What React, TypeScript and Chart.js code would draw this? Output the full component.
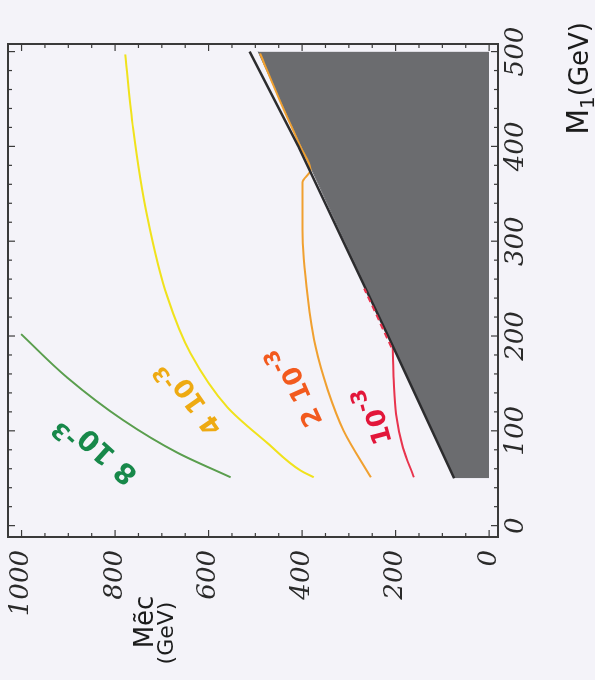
import React, { useEffect, useRef } from 'react';
import { Chart, registerables } from 'chart.js';
Chart.register(...registerables);

// Axis ticks
const M1_TICKS = [0, 100, 200, 300, 400, 500];
const ME_TICKS = [0, 200, 400, 600, 800, 1000];

// Excluded (grey) region: upper edge, filled down to Me = 0
const EXCLUDED_M1 = [50, 100, 200, 300, 400, 500];
const EXCLUDED_ME = [75, 122, 215, 309, 402, 494];

// Dark boundary line
const BOUNDARY_M1 = [50, 100, 200, 300, 400, 500];
const BOUNDARY_ME = [75, 122, 216, 312, 408, 512];

// Contours
const GREEN_M1 = [51, 77, 111, 156, 202];
const GREEN_ME = [553, 667, 782, 902, 1001];

const YELLOW_M1 = [51, 58, 87, 125, 182, 241, 326, 418, 497];
const YELLOW_ME = [375, 403, 474, 560, 639, 688, 731, 761, 778];

const ORANGE_M1 = [51, 100, 143, 188, 241, 312, 362, 375, 400, 450, 498];
const ORANGE_ME = [253, 311, 345, 371, 388, 399, 399, 382, 404, 449, 490];

const RED_M1 = [51, 82, 118, 153, 188];
const RED_ME = [161, 184, 199, 204, 206];

const RED_EDGE_M1 = [188, 250];
const RED_EDGE_ME = [209, 267];

// Contour labels
const LABEL_BASE = ['8 10', '4 10', '2 10', '10'];
const LABEL_SUP = ['-3', '-3', '-3', '-3'];
const LABEL_M1 = [81, 135, 147, 116];
const LABEL_ME = [838, 639, 412, 244];
const LABEL_ANGLE = [-48, -35, -24, -15];
const LABEL_COLOR = ['#17884a', '#eeaa12', '#f25a1e', '#e2163a'];
const LABEL_SIZE = [28, 26, 26, 26];

const zip = (xs: number[], ys: number[]) => xs.map((x, i) => ({ x, y: ys[i] }));

type Part = { text: string; font: string; dy: number; color: string };

function drawRich(ctx: CanvasRenderingContext2D, parts: Part[], x: number, y: number, angle: number, align: 'left' | 'center' | 'right') {
  let total = 0;
  const widths = parts.map((p) => {
    ctx.font = p.font;
    const w = ctx.measureText(p.text).width;
    total += w;
    return w;
  });
  ctx.save();
  ctx.translate(x, y);
  ctx.rotate((angle * Math.PI) / 180);
  ctx.textAlign = 'left';
  ctx.textBaseline = 'alphabetic';
  let cx = align === 'center' ? -total / 2 : align === 'right' ? -total : 0;
  parts.forEach((p, i) => {
    ctx.font = p.font;
    ctx.fillStyle = p.color;
    ctx.fillText(p.text, cx, p.dy);
    cx += widths[i];
  });
  ctx.restore();
}

const overlay = {
  id: 'overlay',
  afterDatasetsDraw(chart: any) {
    const { ctx, chartArea: a, scales } = chart;
    const xs = scales.x;
    const ys = scales.y;
    ctx.save();
    // frame
    ctx.strokeStyle = '#3a3a3a';
    ctx.lineWidth = 2;
    ctx.strokeRect(a.left, a.top, a.right - a.left, a.bottom - a.top);
    // inward ticks
    ctx.lineWidth = 1.2;
    const seg = (x1: number, y1: number, x2: number, y2: number) => {
      ctx.beginPath();
      ctx.moveTo(x1, y1);
      ctx.lineTo(x2, y2);
      ctx.stroke();
    };
    for (let m = 0; m <= 500; m += 20) {
      const px = xs.getPixelForValue(m);
      const len = m % 100 === 0 ? 7 : 4;
      seg(px, a.bottom, px, a.bottom - len);
      seg(px, a.top, px, a.top + len);
    }
    for (let e = 0; e <= 1000; e += 50) {
      const py = ys.getPixelForValue(e);
      const len = e % 200 === 0 ? 7 : 4;
      seg(a.left, py, a.left + len, py);
      seg(a.right, py, a.right - len, py);
    }
    // contour labels
    LABEL_BASE.forEach((base, i) => {
      const s = LABEL_SIZE[i];
      const px = xs.getPixelForValue(LABEL_M1[i]);
      const py = ys.getPixelForValue(LABEL_ME[i]);
      drawRich(
        ctx,
        [
          { text: base, font: `bold ${s}px "DejaVu Sans"`, dy: s * 0.36, color: LABEL_COLOR[i] },
          { text: LABEL_SUP[i], font: `bold ${Math.round(s * 0.82)}px "DejaVu Sans"`, dy: s * 0.36 - s * 0.5, color: LABEL_COLOR[i] },
        ],
        px,
        py,
        LABEL_ANGLE[i],
        'center'
      );
    });
    // axis titles
    drawRich(
      ctx,
      [
        { text: 'M', font: '30px "DejaVu Sans"', dy: 0, color: '#1c1c1c' },
        { text: '1', font: '20px "DejaVu Sans"', dy: 6, color: '#1c1c1c' },
        { text: '(GeV)', font: '26px "DejaVu Sans"', dy: 0, color: '#1c1c1c' },
      ],
      658,
      588,
      0,
      'right'
    );
    drawRich(ctx, [{ text: 'Mẽc', font: '26px "DejaVu Sans"', dy: 0, color: '#1c1c1c' }], 58, 153, 0, 'center');
    drawRich(ctx, [{ text: '(GeV)', font: '22px "DejaVu Sans"', dy: 0, color: '#1c1c1c' }], 47, 173, 0, 'center');
    ctx.restore();
  },
};

const lineDs = (label: string, xs: number[], ys: number[], color: string, width: number, extra: any = {}) => ({
  label,
  data: zip(xs, ys),
  borderColor: color,
  backgroundColor: color,
  borderWidth: width,
  pointRadius: 0,
  fill: false,
  cubicInterpolationMode: 'monotone',
  ...extra,
});

export default function App() {
  const ref = useRef<HTMLCanvasElement>(null);
  useEffect(() => {
    const tickFont = { family: '"DejaVu Serif"', style: 'italic' as const, size: 26 };
    const chart = new Chart(ref.current!, {
      type: 'line',
      data: {
        datasets: [
          lineDs('red edge', RED_EDGE_M1, RED_EDGE_ME, '#e8344e', 2, { borderDash: [6, 4], cubicInterpolationMode: 'default', tension: 0 }),
          lineDs('boundary', BOUNDARY_M1, BOUNDARY_ME, '#2c2c2e', 2.5, { cubicInterpolationMode: 'default', tension: 0 }),
          lineDs('1e-3', RED_M1, RED_ME, '#e8344e', 2),
          lineDs('2e-3', ORANGE_M1, ORANGE_ME, '#f0a030', 2),
          lineDs('4e-3', YELLOW_M1, YELLOW_ME, '#f0e21c', 2),
          lineDs('8e-3', GREEN_M1, GREEN_ME, '#5a9e4e', 2),
          {
            label: 'excluded',
            data: zip(EXCLUDED_M1, EXCLUDED_ME),
            borderColor: '#6b6c6f',
            backgroundColor: '#6b6c6f',
            borderWidth: 1,
            pointRadius: 0,
            tension: 0,
            fill: 'origin',
          },
        ],
      },
      options: {
        animation: false,
        responsive: false,
        maintainAspectRatio: false,
        layout: { padding: { top: 8, right: 44, left: 0, bottom: 0 } },
        plugins: { legend: { display: false }, tooltip: { enabled: false } },
        scales: {
          x: {
            type: 'linear',
            position: 'bottom',
            min: -12,
            max: 508,
            grid: { display: false, drawTicks: false },
            border: { display: false },
            afterBuildTicks: (s: any) => {
              s.ticks = M1_TICKS.map((v) => ({ value: v }));
            },
            afterFit: (s: any) => {
              s.height = 97;
              s.paddingLeft = 0;
              s.paddingRight = 0;
            },
            ticks: {
              font: tickFont,
              color: '#2a2a2a',
              padding: 3,
              maxRotation: 0,
              minRotation: 0,
              autoSkip: false,
              callback: (v: any) => String(v),
            },
          },
          y: {
            type: 'linear',
            position: 'left',
            min: -19,
            max: 1029,
            grid: { display: false, drawTicks: false },
            border: { display: false },
            afterBuildTicks: (s: any) => {
              s.ticks = ME_TICKS.map((v) => ({ value: v }));
            },
            afterFit: (s: any) => {
              s.width = 143;
              s.paddingTop = 0;
              s.paddingBottom = 0;
            },
            ticks: { font: tickFont, color: '#2a2a2a', padding: 13, autoSkip: false, callback: (v: any) => String(v) },
          },
        },
      },
      plugins: [overlay],
    } as any);
    return () => chart.destroy();
  }, []);
  return (
    <div style={{ position: 'fixed', left: 0, top: 0, width: 595, height: 680, overflow: 'hidden', background: '#f4f3f9' }}>
      <div
        style={{
          position: 'absolute',
          left: 0,
          top: 0,
          width: 680,
          height: 595,
          transformOrigin: '0 0',
          transform: 'translate(0px, 680px) rotate(-90deg)',
        }}
      >
        <canvas ref={ref} width={680} height={595} style={{ display: 'block' }} />
      </div>
    </div>
  );
}
